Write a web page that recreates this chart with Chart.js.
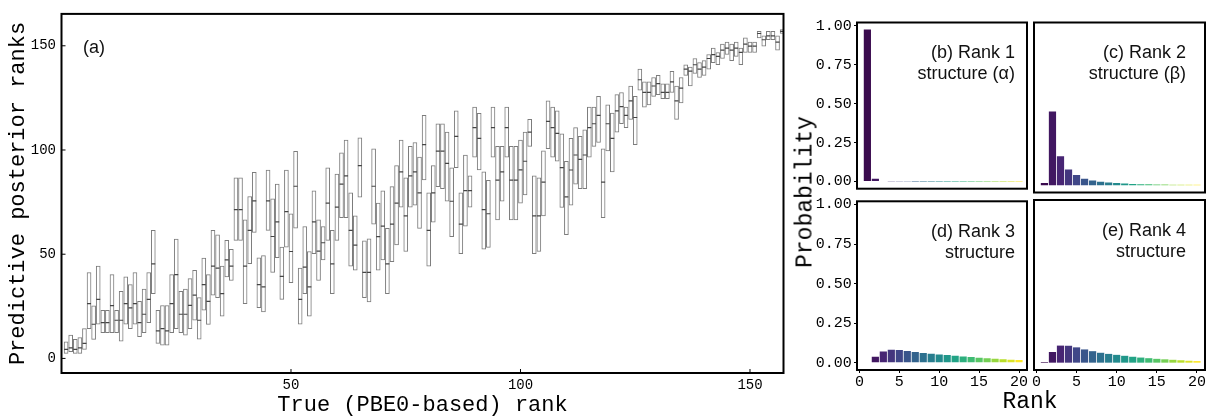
<!DOCTYPE html>
<html><head><meta charset="utf-8">
<script src="https://cdn.jsdelivr.net/npm/chart.js@4/dist/chart.umd.min.js"></script>
<style>
html,body{margin:0;padding:0;background:#fff;width:1208px;height:416px;overflow:hidden;position:relative}
canvas{position:absolute}
.lab{position:absolute;font-family:"Liberation Mono","DejaVu Sans Mono",monospace;color:#000;white-space:nowrap;line-height:1;transform:translate(-50%,-50%)}
</style></head><body>
<canvas id="main" width="800" height="416" style="left:0;top:0"></canvas>
<canvas id="pb" width="236" height="200" style="left:796px;top:0"></canvas>
<canvas id="pc" width="180" height="200" style="left:1028px;top:0"></canvas>
<canvas id="pd" width="236" height="226" style="left:796px;top:190px"></canvas>
<canvas id="pe" width="180" height="226" style="left:1028px;top:190px"></canvas>
<div class="lab" id="probLab" style="left:806px;top:192px;font-size:23px;transform:translate(-50%,-50%) rotate(-90deg)">Probability</div>
<div class="lab" id="rankLab" style="left:1030px;top:402px;font-size:23px">Rank</div>
<script>
// ---------- data ----------
const mainXTitle = 'True (PBE0-based) rank';
const mainYTitle = 'Predictive posterior ranks';
const mainXTicks = [50, 100, 150];
const mainYTicks = [0, 50, 100, 150];

// upper quartile of predicted rank for each true rank 1..157
const q3 = [8.0,11.2,9.1,10.0,14.3,41.2,25.2,44.3,23.1,23.1,
40.2,23.1,32.2,39.1,35.4,41.2,27.4,33.3,41.2,61.4,
23.1,25.4,25.4,40.2,57.3,32.2,33.3,38.3,42.3,29.2,
48.1,40.2,61.4,59.3,44.3,56.6,52.3,86.6,86.6,66.5,
77.7,89.3,48.3,49.3,90.4,76.6,83.6,53.4,90.4,69.4,
99.4,43.3,63.3,51.3,80.4,66.5,63.3,91.5,61.4,88.5,
98.6,104.7,79.4,68.4,105.8,56.4,57.4,100.5,74.5,80.4,
62.4,82.4,92.5,104.7,86.6,101.7,103.6,96.6,116.6,79.4,
92.5,112.6,112.6,108.6,91.5,118.8,79.4,97.6,87.6,120.6,
117.6,89.5,85.5,120.6,101.7,101.7,120.6,101.7,101.7,104.7,
108.6,114.7,87.6,86.6,99.6,123.6,120.6,118.8,107.7,94.6,
105.6,110.7,106.6,109.7,120.6,120.6,125.7,100.6,121.7,117.7,
126.6,127.6,120.6,130.7,125.7,138.8,132.7,132.7,134.8,135.8,
131.8,131.8,137.8,130.7,134.8,140.9,139.8,143.9,141.9,142.9,
145.8,148.9,146.8,150.8,151.8,150.8,151.8,148.9,153.8,151.8,
151.8,156.9,154.8,156.9,156.9,154.8,157.8];
// median
const med = [4.3,5.1,4.3,5.1,7.2,26.3,16.4,28.3,17.2,17.2,
25.3,18.3,18.3,26.3,24.2,26.3,17.2,21.2,28.3,45.4,
13.2,14.3,13.2,26.3,40.2,21.2,21.2,25.4,30.4,18.3,
35.4,27.4,44.3,43.3,31.1,47.3,44.3,71.4,71.4,44.3,
61.4,75.6,35.4,34.3,75.6,58.5,65.5,39.4,70.4,51.3,
82.6,28.3,43.8,34.3,65.5,51.5,55.5,74.5,45.4,72.6,
83.6,87.6,61.4,54.4,92.5,41.3,41.3,82.6,58.4,63.5,
45.4,64.4,74.5,89.5,68.4,87.6,89.5,79.4,102.6,61.4,
79.4,99.5,99.5,93.6,75.4,106.5,64.4,80.5,80.5,110.7,
105.6,71.4,69.4,110.7,85.5,89.5,110.7,85.5,85.5,90.5,
94.6,108.6,68.4,68.4,84.6,113.7,110.7,108.0,91.5,77.5,
90.4,97.6,95.5,97.6,110.7,112.6,116.6,84.6,112.6,105.6,
118.8,120.8,116.6,123.6,115.6,133.7,127.6,127.6,130.7,131.8,
127.6,127.6,132.7,123.6,129.7,138.8,137.8,140.9,138.8,139.8,
143.9,145.8,144.9,147.9,148.9,147.9,148.9,146.8,150.8,149.8,
149.8,155.9,152.9,154.8,154.8,151.8,156.9];
// lower quartile
const q1 = [2.4,3.2,2.4,2.4,4.3,14.3,9.1,16.4,12.3,12.3,
12.3,12.3,8.3,16.4,14.3,16.4,10.4,12.3,17.2,31.1,
7.2,6.4,6.4,12.3,14.3,12.3,11.2,14.3,18.3,9.2,
23.1,16.3,30.3,29.2,20.3,39.1,37.4,56.6,56.6,26.3,
45.4,60.5,24.4,22.3,61.4,41.3,48.3,28.3,53.4,36.4,
62.5,16.4,31.1,20.3,50.2,37.4,47.3,56.6,31.1,56.6,
67.5,67.5,44.3,42.3,77.4,29.2,27.1,64.4,42.3,47.3,
31.1,46.4,54.4,72.6,51.3,72.6,73.5,62.4,85.6,44.3,
65.4,82.4,81.5,75.4,58.4,91.5,50.3,63.5,72.6,96.6,
90.4,52.4,53.3,96.6,66.5,75.4,96.6,66.5,66.5,74.5,
78.5,101.7,50.3,51.3,68.4,100.6,96.6,94.6,72.4,59.4,
73.5,83.6,81.5,81.5,96.6,101.7,103.6,67.5,99.5,89.5,
108.6,112.6,110.7,114.7,102.6,128.7,120.6,121.6,125.7,126.6,
124.6,124.6,127.6,114.7,122.6,135.8,130.7,136.7,134.8,135.8,
138.8,141.9,140.9,143.9,145.8,142.9,144.9,140.9,146.8,146.8,
146.8,153.8,149.8,152.9,152.9,147.9,155.9];

const rankCats = [1,2,3,4,5,6,7,8,9,10,11,12,13,14,15,16,17,18,19,20];
const rankTicks = [0, 5, 10, 15, 20];
const probTicks = [0, 0.25, 0.5, 0.75, 1.0];
const probB = [0.975,0.018,0.004,0.002,0.0012,0.001,0.0008,0.0006,0.0005,0.0004,0.0003,0.0003,0.0002,0.0002,0.0002,0.0001,0.0001,0.0001,0.0001,0.0001];
const probC = [0.013,0.462,0.181,0.098,0.063,0.041,0.029,0.021,0.017,0.013,0.010,0.008,0.006,0.005,0.004,0.004,0.003,0.003,0.002,0.002];
const probD = [0.003,0.038,0.071,0.082,0.080,0.074,0.068,0.062,0.057,0.052,0.048,0.044,0.040,0.036,0.032,0.028,0.025,0.022,0.019,0.017];
const probE = [0.004,0.067,0.107,0.106,0.096,0.083,0.072,0.062,0.055,0.049,0.043,0.037,0.032,0.028,0.024,0.021,0.018,0.015,0.012,0.010];
const titleB = ['(b) Rank 1', 'structure (\u03b1)'];
const titleC = ['(c) Rank 2', 'structure (\u03b2)'];
const titleD = ['(d) Rank 3', 'structure'];
const titleE = ['(e) Rank 4', 'structure'];

// ---------- style ----------
const mono = '"Liberation Mono", "DejaVu Sans Mono", monospace';
const sans = '"Liberation Sans", Arial, sans-serif';
const viridisStops = ['#3a0a4e','#472372','#414487','#355f8d','#2a788e','#21918c','#22a884','#44bf70','#7ad151','#bddf26','#fde725'];
function hexRgb(h){return [parseInt(h.slice(1,3),16),parseInt(h.slice(3,5),16),parseInt(h.slice(5,7),16)];}
function viridis(t){
  const s = Math.max(0, Math.min(1, t)) * 10;
  const i = Math.min(9, Math.floor(s)); const f = s - i;
  const a = hexRgb(viridisStops[i]), b = hexRgb(viridisStops[i+1]);
  return 'rgb(' + a.map((v,k)=>Math.round(v + (b[k]-v)*f)).join(',') + ')';
}

const framePlugin = {
  id: 'frame',
  afterDatasetsDraw(chart, args, o) {
    const {ctx, chartArea: a} = chart;
    ctx.save();
    if (o.inTicks) {
      ctx.strokeStyle = '#000'; ctx.lineWidth = 1;
      const xs = chart.scales.x, ys = chart.scales.y;
      ctx.beginPath();
      o.inTicks.x.forEach(v => { const p = xs.getPixelForValue(v); ctx.moveTo(p, a.bottom); ctx.lineTo(p, a.bottom - 4); });
      o.inTicks.y.forEach(v => { const p = ys.getPixelForValue(v); ctx.moveTo(a.left, p); ctx.lineTo(a.left + 4, p); });
      ctx.stroke();
    }
    ctx.strokeStyle = '#000'; ctx.lineWidth = o.lw || 2;
    ctx.strokeRect(a.left, a.top, a.right - a.left, a.bottom - a.top);
    if (o.lines) {
      ctx.fillStyle = '#111'; ctx.font = o.font; ctx.textAlign = o.align || 'right'; ctx.textBaseline = 'middle';
      const x = o.align === 'left' ? a.left + o.dx : a.right - o.dx;
      o.lines.forEach((t, i) => ctx.fillText(t, x, a.top + o.dy + i * o.lh));
    }
    ctx.restore();
  }
};

// ---------- main box chart ----------
const boxData = q1.map((lo, i) => ({x: i + 1, y: [lo, q3[i]]}));
const medData = med.map((m, i) => ({x: i + 1, y: m}));

new Chart(document.getElementById('main'), {
  type: 'bar',
  data: {datasets: [
    {type: 'bar', data: boxData, backgroundColor: '#ffffff', borderColor: '#7c7c7c', borderWidth: 1, borderSkipped: false, barThickness: 4, order: 2},
    {type: 'line', data: medData, showLine: false, pointStyle: 'line', pointRadius: 2, pointBorderWidth: 1.2, pointBorderColor: '#444', pointBackgroundColor: '#444', order: 1}
  ]},
  options: {
    responsive: false, animation: false, devicePixelRatio: 1, events: [],
    layout: {padding: {left: 0, top: 13, right: 16.5, bottom: 0}},
    plugins: {legend: {display: false}, tooltip: {enabled: false},
      frame: {lw: 2, inTicks: {x: mainXTicks, y: mainYTicks}, lines: ['(a)'], align: 'left', dx: 21.5, dy: 34, lh: 0, font: '18px ' + sans}},
    scales: {
      x: {type: 'linear', min: 0, max: 157.3, offset: false,
        afterBuildTicks: s => { s.ticks = mainXTicks.map(v => ({value: v})); },
        afterFit: s => { s.height = 43; },
        grid: {display: false, drawTicks: false}, border: {display: false},
        ticks: {font: {family: mono, size: 14}, color: '#000', padding: 4, maxRotation: 0, autoSkip: false},
        title: {display: true, text: mainXTitle, font: {family: mono, size: 22, lineHeight: 1}, color: '#000', padding: 0}},
      y: {type: 'linear', min: -7, max: 165.3,
        afterBuildTicks: s => { s.ticks = mainYTicks.map(v => ({value: v})); },
        afterFit: s => { s.width = 61.5; },
        grid: {display: false, drawTicks: false}, border: {display: false},
        ticks: {font: {family: mono, size: 14}, color: '#000', padding: 5.5, autoSkip: false},
        title: {display: true, text: mainYTitle, font: {family: mono, size: 22, lineHeight: 1}, color: '#000', padding: {top: 7, bottom: 0}}}
    }
  },
  plugins: [framePlugin]
});

// ---------- probability panels ----------
function panel(id, probs, lines, o) {
  return new Chart(document.getElementById(id), {
    type: 'bar',
    data: {datasets: [{
      data: probs.map((p, i) => ({x: rankCats[i], y: p})),
      backgroundColor: rankCats.map(r => viridis((r - 1) / 19)),
      borderWidth: 0, barPercentage: 0.9, categoryPercentage: 1
    }]},
    options: {
      responsive: false, animation: false, devicePixelRatio: 1, events: [],
      layout: {padding: o.pad},
      plugins: {legend: {display: false}, tooltip: {enabled: false},
        frame: {lw: 2, lines: lines, align: 'right', dx: o.dx, dy: 31, lh: 21, font: '18px ' + sans}},
      scales: {
        x: {type: 'linear', min: -0.3, max: 21, offset: false, display: o.showX,
          afterBuildTicks: s => { s.ticks = rankTicks.map(v => ({value: v})); },
          afterFit: s => { s.height = o.showX ? 46 : 0; },
          grid: {display: true, drawOnChartArea: false, drawTicks: true, tickLength: 3, color: '#000', offset: false},
          border: {display: false},
          ticks: {font: {family: mono, size: 15}, color: '#000', padding: 0, maxRotation: 0, autoSkip: false}},
        y: {type: 'linear', min: -0.046, max: 1.02, display: o.showY,
          afterBuildTicks: s => { s.ticks = probTicks.map(v => ({value: v})); },
          afterFit: s => { s.width = o.showY ? 61 : 0; },
          grid: {display: true, drawOnChartArea: false, drawTicks: true, tickLength: 3, color: '#000'},
          border: {display: false},
          ticks: {font: {family: mono, size: 15}, color: '#000', padding: 2.3, autoSkip: false, callback: v => Number(v).toFixed(2)}}
      }
    },
    plugins: [framePlugin]
  });
}
panel('pb', probB, titleB, {pad: {left: 0, right: 5, top: 22.5, bottom: 7.5}, showX: false, showY: true, dx: 12});
panel('pc', probC, titleC, {pad: {left: 6, right: 3, top: 22.5, bottom: 7.5}, showX: false, showY: false, dx: 19});
panel('pd', probD, titleD, {pad: {left: 0, right: 5, top: 10, bottom: 0}, showX: true, showY: true, dx: 12});
panel('pe', probE, titleE, {pad: {left: 6, right: 3, top: 10, bottom: 0}, showX: true, showY: false, dx: 19});
</script>
</body></html>
